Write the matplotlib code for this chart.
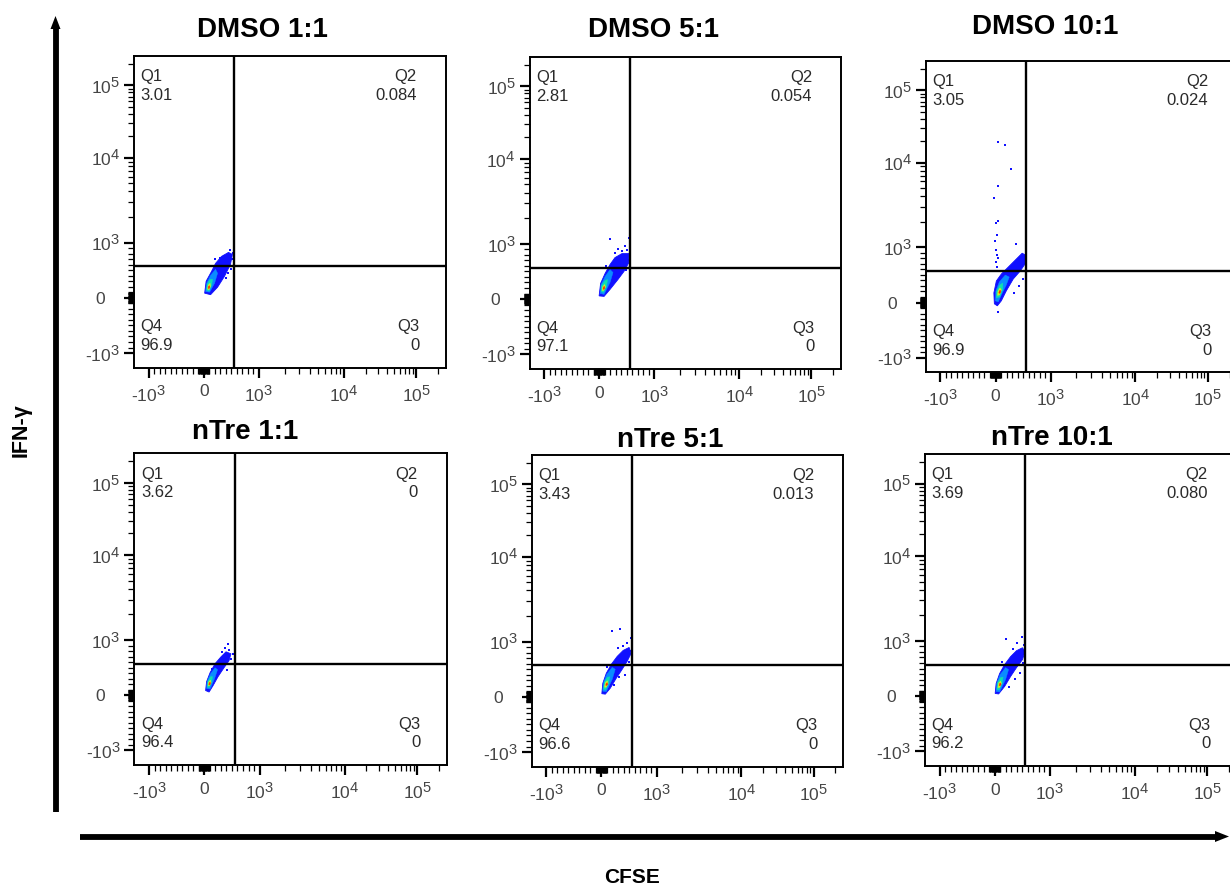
import numpy as np
import matplotlib
matplotlib.use("Agg")
import matplotlib.pyplot as plt
from matplotlib.ticker import FixedLocator, FixedFormatter
import matplotlib._mathtext as _mt

_mt.SHRINK_FACTOR = 0.85   # larger superscripts, like the cytometry software labels

plt.rcParams['font.family'] = ['Liberation Sans', 'DejaVu Sans']
plt.rcParams['mathtext.fontset'] = 'custom'
plt.rcParams['mathtext.rm'] = 'Liberation Sans'
plt.rcParams['mathtext.it'] = 'Liberation Sans:italic'
plt.rcParams['mathtext.bf'] = 'Liberation Sans:bold'

# ---------------- data ----------------
titles = ['DMSO 1:1', 'DMSO 5:1', 'DMSO 10:1', 'nTre 1:1', 'nTre 5:1', 'nTre 10:1']
q1_vals = ['3.01', '2.81', '3.05', '3.62', '3.43', '3.69']
q2_vals = ['0.084', '0.054', '0.024', '0', '0.013', '0.080']
q3_vals = ['0', '0', '0', '0', '0', '0']
q4_vals = ['96.9', '97.1', '96.9', '96.4', '96.6', '96.2']
gate_x = [555, 555, 555, 555, 555, 555]      # CFSE gate
gate_y = [570, 570, 570, 570, 570, 570]      # IFN-g gate

major_ticks = [-1000, 0, 1000, 10000, 100000]
major_labels = ['-$10^{3}$', '0', '$10^{3}$', '$10^{4}$', '$10^{5}$']
minor_ticks = ([-900, -800, -700, -600, -500, -400, -300, -200, -100,
                -90, -80, -70, -60, -50, -40, -30, -20, -10,
                10, 20, 30, 40, 50, 60, 70, 80, 90,
                100, 200, 300, 400, 500, 600, 700, 800, 900,
                2000, 3000, 4000, 5000, 6000, 7000, 8000, 9000,
                20000, 30000, 40000, 50000, 60000, 70000, 80000, 90000,
                200000])

# density contours (CFSE, IFN-g), outer -> inner
dmso11_blue = [(15, 84), (42, 300), (141, 480), (213, 624), (321, 750), (447, 822), (519, 786), (483, 606), (375, 390), (249, 192), (123, 57)]
dmso11_cyan = [(33, 111), (51, 264), (123, 408), (213, 516), (249, 444), (195, 264), (105, 102)]
dmso11_green = [(51, 138), (60, 246), (114, 336), (159, 336), (141, 228), (96, 120)]
dmso11_yellow = [(69, 156), (78, 228), (114, 264), (123, 210), (96, 147)]
dmso11_red = [(78, 174), (87, 210), (105, 219), (109, 192), (96, 169)]
dmso11_dots = [(483, 863), (528, 804), (321, 642), (393, 498), (447, 444), (285, 714), (519, 696), (195, 696), (357, 750), (411, 354), (501, 516)]

dmso51_blue = [(-3, 57), (24, 282), (105, 462), (195, 624), (285, 750), (411, 822), (537, 822), (537, 660), (447, 498), (339, 354), (195, 174), (87, 48)]
dmso51_cyan = [(15, 102), (33, 264), (105, 408), (195, 534), (249, 480), (195, 300), (87, 84)]
dmso51_green = [(33, 138), (42, 246), (105, 336), (150, 354), (132, 228), (78, 120)]
dmso51_yellow = [(51, 156), (60, 219), (96, 264), (114, 219), (78, 156)]
dmso51_red = [(69, 183), (78, 219), (96, 228), (101, 196), (83, 174)]
dmso51_dots = [(532, 1164), (200, 1145), (465, 966), (339, 912), (501, 894), (411, 876), (285, 840), (519, 714), (375, 426), (321, 390), (123, 606), (483, 534)]

dmso101_blue = [(-21, -24), (-30, 174), (15, 390), (105, 516), (231, 642), (375, 786), (483, 894), (546, 858), (546, 714), (447, 570), (321, 426), (195, 210), (105, 30), (33, -60)]
dmso101_cyan = [(-3, 30), (6, 210), (69, 372), (177, 498), (249, 462), (195, 318), (105, 138), (51, 12)]
dmso101_green = [(15, 84), (24, 210), (78, 318), (132, 354), (132, 246), (78, 102)]
dmso101_yellow = [(37, 129), (46, 210), (82, 264), (105, 228), (73, 138)]
dmso101_red = [(60, 174), (69, 210), (87, 223), (96, 192), (78, 165)]
dmso101_dots = [(28, 647), (38, 799), (15, 948), (-3, 1196), (28, 1396), (15, 1950), (38, 2042), (-21, 3776), (38, 5272), (280, 8290), (38, 18970), (164, 17570), (370, 1093), (38, -181), (429, 300), (339, 174), (501, 426), (15, 732), (33, 858)]

ntre11_blue = [(24, 84), (42, 246), (105, 408), (195, 570), (303, 696), (393, 786), (483, 750), (447, 624), (357, 498), (249, 336), (159, 174), (87, 57)]
ntre11_cyan = [(42, 120), (51, 246), (114, 390), (195, 498), (240, 462), (186, 300), (105, 111)]
ntre11_green = [(55, 147), (69, 255), (114, 336), (150, 336), (132, 237), (87, 138)]
ntre11_yellow = [(69, 174), (78, 237), (110, 273), (123, 228), (92, 174)]
ntre11_red = [(82, 192), (91, 228), (107, 235), (112, 205), (96, 187)]
ntre11_dots = [(424, 935), (519, 745), (375, 858), (447, 822), (321, 786), (483, 660), (339, 516), (213, 318), (411, 462), (141, 480)]

ntre51_blue = [(6, 57), (24, 246), (87, 426), (177, 588), (285, 732), (393, 840), (501, 894), (537, 786), (465, 642), (375, 498), (267, 336), (159, 156), (69, 48)]
ntre51_cyan = [(24, 102), (33, 246), (96, 408), (195, 534), (249, 498), (195, 318), (87, 93)]
ntre51_green = [(37, 138), (51, 264), (105, 354), (150, 363), (132, 255), (78, 129)]
ntre51_yellow = [(55, 174), (69, 255), (105, 291), (119, 246), (87, 174)]
ntre51_red = [(78, 210), (87, 246), (105, 255), (112, 224), (94, 205)]
ntre51_dots = [(537, 1114), (339, 1396), (190, 1322), (465, 966), (393, 912), (519, 822), (303, 876), (429, 390), (321, 354), (231, 210), (501, 624), (105, 534)]

ntre101_blue = [(6, 48), (24, 228), (87, 408), (177, 570), (285, 714), (393, 822), (501, 876), (546, 804), (501, 660), (393, 516), (285, 354), (177, 174), (69, 39)]
ntre101_cyan = [(24, 84), (33, 228), (96, 390), (195, 516), (249, 480), (195, 300), (87, 75)]
ntre101_green = [(37, 120), (51, 246), (105, 336), (150, 345), (132, 237), (78, 111)]
ntre101_yellow = [(55, 156), (69, 237), (105, 273), (119, 228), (87, 156)]
ntre101_red = [(78, 192), (87, 228), (105, 237), (112, 206), (94, 187)]
ntre101_dots = [(501, 1123), (195, 1064), (411, 966), (537, 930), (321, 858), (465, 426), (357, 318), (249, 174), (123, 624), (519, 606)]

clouds = [
    [dmso11_blue, dmso11_cyan, dmso11_green, dmso11_yellow, dmso11_red],
    [dmso51_blue, dmso51_cyan, dmso51_green, dmso51_yellow, dmso51_red],
    [dmso101_blue, dmso101_cyan, dmso101_green, dmso101_yellow, dmso101_red],
    [ntre11_blue, ntre11_cyan, ntre11_green, ntre11_yellow, ntre11_red],
    [ntre51_blue, ntre51_cyan, ntre51_green, ntre51_yellow, ntre51_red],
    [ntre101_blue, ntre101_cyan, ntre101_green, ntre101_yellow, ntre101_red],
]
dots = [dmso11_dots, dmso51_dots, dmso101_dots, ntre11_dots, ntre51_dots, ntre101_dots]
level_colors = ['#1010ff', '#0a8cff', '#10e0b0', '#d8f020', '#ff2a00']

# ---------------- biexponential-like display scale ----------------
T_anchor = np.array([-4.0, -1.0, 0.0, 1.0, 2.0, 3.0, 6.0])
F_anchor = np.array([-0.484, 0.047, 0.224, 0.401, 0.673, 0.905, 1.601])


def to_t(v):
    v = np.asarray(v, dtype=float)
    a = np.abs(v)
    return np.where(a <= 1000, v / 1000.0,
                    np.sign(v) * (1 + np.log10(np.maximum(a, 1000) / 1000.0)))


def from_t(t):
    t = np.asarray(t, dtype=float)
    a = np.abs(t)
    return np.where(a <= 1, t * 1000.0, np.sign(t) * 1000.0 * 10 ** (np.maximum(a, 1) - 1))


def fwd(v):
    return np.interp(to_t(v), T_anchor, F_anchor)


def inv(f):
    return from_t(np.interp(f, F_anchor, T_anchor))


lo, hi = float(inv(0.0)), float(inv(1.0))

# ---------------- figure ----------------
W, H = 1230, 888
fig = plt.figure(figsize=(W / 100, H / 100), dpi=100)

# panel boxes in pixels: left, top, width, height
boxes = [(134, 55.7, 311.7, 312), (529.5, 56.7, 311.5, 312.3), (925.7, 60.7, 311.7, 311.6),
         (134.3, 453.3, 312.4, 311.7), (531.7, 454.7, 311.6, 312), (925, 454, 311.7, 312)]
title_pos = [(262, 30), (654, 30), (1045, 27), (245, 432), (670, 440), (1052, 438)]

tick_col = '#454545'
for i in range(6):
    l, t, w, h = boxes[i]
    ax = fig.add_axes([l / W, 1 - (t + h) / H, w / W, h / H])
    ax.set_xscale('function', functions=(fwd, inv))
    ax.set_yscale('function', functions=(fwd, inv))
    ax.set_xlim(lo, hi)
    ax.set_ylim(lo, hi)
    for axis in (ax.xaxis, ax.yaxis):
        axis.set_major_locator(FixedLocator(major_ticks))
        axis.set_major_formatter(FixedFormatter(major_labels))
        axis.set_minor_locator(FixedLocator(minor_ticks))
    ax.set_yticklabels(['-$10^{3}$', '0   ', '$10^{3}$', '$10^{4}$', '$10^{5}$'])
    ax.tick_params(which='major', direction='out', length=7, width=1.6, color='black',
                   labelsize=12.5, labelcolor=tick_col)
    ax.tick_params(which='minor', direction='out', length=4, width=0.9, color='black')
    ax.tick_params(axis='x', which='major', pad=5)
    ax.tick_params(axis='y', which='major', pad=3)
    for s in ax.spines.values():
        s.set_linewidth(1.4)
        s.set_color('black')

    # density cloud
    for lev, poly in enumerate(clouds[i]):
        xs = [p[0] for p in poly]
        ys = [p[1] for p in poly]
        ax.fill(xs, ys, color=level_colors[lev], lw=0.6 if lev == 0 else 0.3,
                ec=level_colors[lev], zorder=2 + lev * 0.1)
    dx = [p[0] for p in dots[i]]
    dy = [p[1] for p in dots[i]]
    ax.scatter(dx, dy, s=2.2, marker='s', color='#1010ff', linewidths=0, zorder=2)

    # quadrant gates
    ax.axvline(gate_x[i], color='black', lw=1.7, zorder=5)
    ax.axhline(gate_y[i], color='black', lw=1.7, zorder=5)

    qk = dict(transform=ax.transAxes, fontsize=12, color='#2a2a2a', linespacing=1.3)
    ax.text(0.0215, 0.957, 'Q1\n' + q1_vals[i], ha='left', va='top', **qk)
    ax.text(0.907, 0.957, 'Q2\n' + q2_vals[i], ha='right', va='top', multialignment='right', **qk)
    ax.text(0.916, 0.155, 'Q3\n' + q3_vals[i], ha='right', va='top', multialignment='right', **qk)
    ax.text(0.0215, 0.155, 'Q4\n' + q4_vals[i], ha='left', va='top', **qk)

    tx, ty = title_pos[i]
    fig.text(tx / W, 1 - ty / H, titles[i], ha='center', va='center',
             fontsize=20, fontweight='bold', color='black')

# big axis arrows and labels
ov = fig.add_axes([0, 0, 1, 1], zorder=10)
ov.set_xlim(0, W)
ov.set_ylim(H, 0)
ov.axis('off')
ov.patch.set_alpha(0)
ov.plot([55.5, 55.5], [812, 28], color='black', lw=4.2, solid_capstyle='butt')
ov.fill([50.5, 60.5, 55.5], [29, 29, 16], color='black', lw=0)
ov.plot([80, 1216], [836.5, 836.5], color='black', lw=4.2, solid_capstyle='butt')
ov.fill([1215, 1215, 1229], [831, 842, 836.5], color='black', lw=0)
ov.text(21, 430, 'IFN-γ', rotation=90, ha='center', va='center', fontsize=15.5,
        fontweight='bold', color='black')
ov.text(632, 877, 'CFSE', ha='center', va='center', fontsize=15,
        fontweight='bold', color='black')

fig.savefig('out.png', dpi=100)
